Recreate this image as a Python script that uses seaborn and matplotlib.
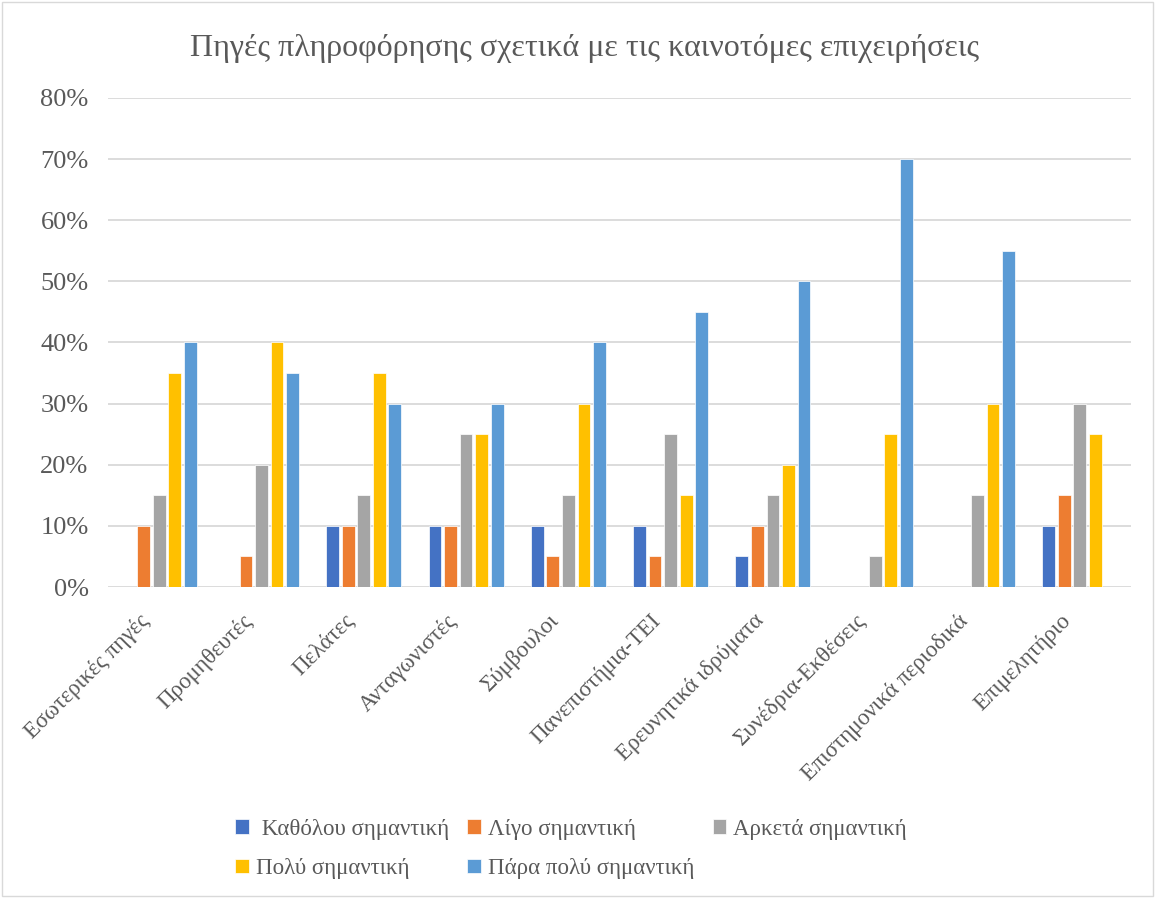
import pandas as pd
import matplotlib.pyplot as plt
import seaborn as sns
from matplotlib.patches import Rectangle
from matplotlib.ticker import PercentFormatter
from matplotlib.transforms import ScaledTranslation

# Κατηγορίες και σειρές
kategories = ["Εσωτερικές πηγές", "Προμηθευτές", "Πελάτες", "Ανταγωνιστές",
              "Σύμβουλοι", "Πανεπιστήμια-ΤΕΙ", "Ερευνητικά ιδρύματα",
              "Συνέδρια-Εκθέσεις", "Επιστημονικά περιοδικά", "Επιμελητήριο"]

seires = [" Καθόλου σημαντική", "Λίγο σημαντική", "Αρκετά σημαντική",
          "Πολύ σημαντική", "Πάρα πολύ σημαντική"]

katholou = [0, 0, 10, 10, 10, 10, 5, 0, 0, 10]
ligo = [10, 5, 10, 10, 5, 5, 10, 0, 0, 15]
arketa = [15, 20, 15, 25, 15, 25, 15, 5, 15, 30]
poly = [35, 40, 35, 25, 30, 15, 20, 25, 30, 25]
para_poly = [40, 35, 30, 30, 40, 45, 50, 70, 55, 0]

xromata = ["#4472C4", "#ED7D31", "#A5A5A5", "#FFC000", "#5B9BD5"]

rows = []
for s, vals in zip(seires, [katholou, ligo, arketa, poly, para_poly]):
    for k, v in zip(kategories, vals):
        rows.append({"Πηγή": k, "Σειρά": s, "Τιμή": v / 100})
df = pd.DataFrame(rows)

sns.set_style("white")
plt.rcParams['font.family'] = ['Liberation Serif', 'DejaVu Serif']

fig = plt.figure(figsize=(11.55, 8.98), dpi=100)
ax = fig.add_axes([108 / 1155, 1 - 587 / 898, (1131 - 108) / 1155, (587 - 98) / 898])

sns.barplot(data=df, x="Πηγή", y="Τιμή", hue="Σειρά", order=kategories,
            hue_order=seires, palette=xromata, saturation=1, width=0.76, gap=0.18,
            edgecolor="white", linewidth=0.5, ax=ax, legend=True)

ax.set_ylim(0, 0.8)
ax.set_yticks([i / 10 for i in range(9)])
ax.yaxis.set_major_formatter(PercentFormatter(1.0, decimals=0))
ax.grid(axis="y", color="#D9D9D9", linewidth=1.3)
ax.set_axisbelow(True)
for sp in ax.spines.values():
    sp.set_visible(False)
ax.set_xlabel("")
ax.set_ylabel("")
ax.tick_params(axis="y", length=0, pad=14, labelsize=19, labelcolor="#595959")
ax.tick_params(axis="x", length=0, pad=6, labelsize=16.5, labelcolor="#595959")
offset = ScaledTranslation(-0.20, -0.15, fig.dpi_scale_trans)
for lbl in ax.get_xticklabels():
    lbl.set_rotation(45)
    lbl.set_ha("right")
    lbl.set_rotation_mode("anchor")
    lbl.set_transform(lbl.get_transform() + offset)

ax.set_title("Πηγές πληροφόρησης σχετικά με τις καινοτόμες επιχειρήσεις",
             fontsize=23, color="#595959", pad=30, x=(585 - 108) / 1023)

handles, labels = ax.get_legend_handles_labels()
ax.get_legend().remove()
order = [0, 3, 1, 4, 2]
leg = fig.legend([handles[i] for i in order], [labels[i] for i in order],
                 loc="center", bbox_to_anchor=(571 / 1155, 1 - 849 / 898), ncol=3,
                 frameon=False, fontsize=16.5, handlelength=0.6, handleheight=0.6,
                 handletextpad=0.3, columnspacing=0.8, labelspacing=0.8)
for t in leg.get_texts():
    t.set_color("#595959")

fig.patches.append(Rectangle((2 / 1155, 2 / 898), 1 - 4 / 1155, 1 - 4 / 898,
                             transform=fig.transFigure, fill=False,
                             edgecolor="#D9D9D9", linewidth=1))

fig.savefig("out.png", dpi=100)
